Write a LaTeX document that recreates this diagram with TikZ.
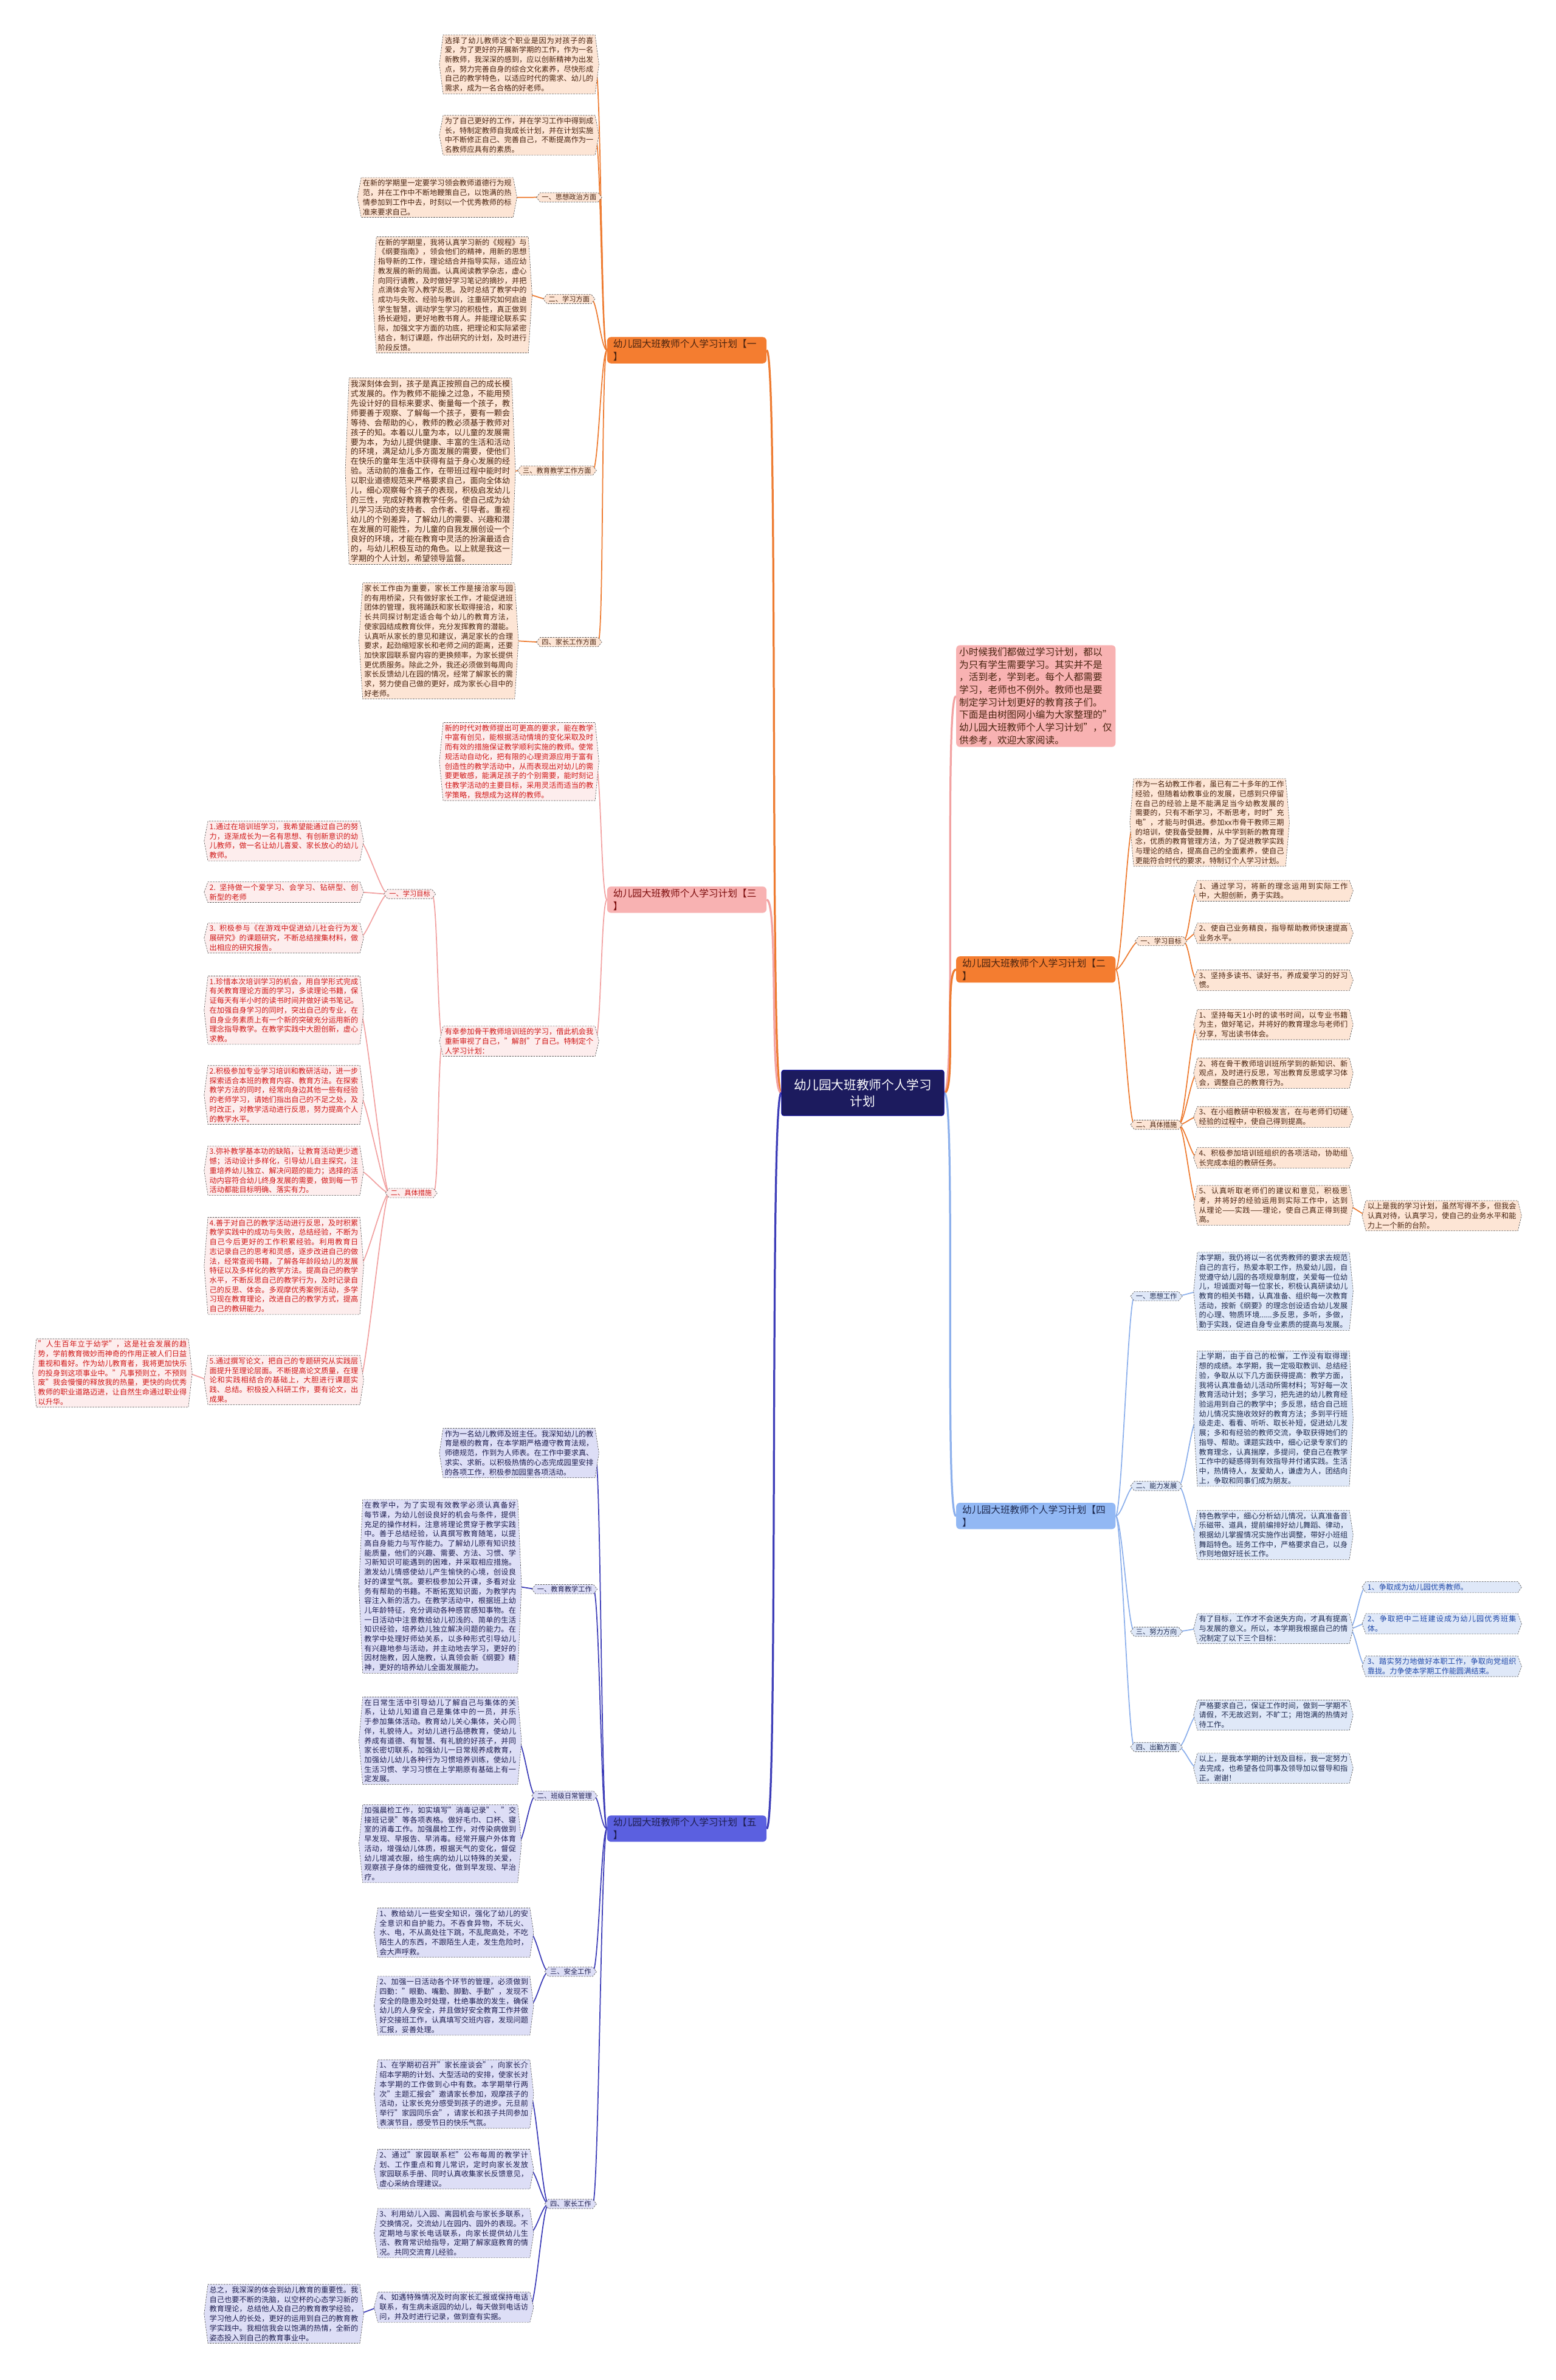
\documentclass[tikz,border=0pt]{standalone}
\usepackage{fontspec}
\setmainfont{Noto Sans CJK SC}
\XeTeXlinebreaklocale "zh"
\XeTeXlinebreakskip=0pt plus 1pt
\newcommand\leafsize{\fontsize{13.9pt}{17.9pt}\selectfont}
\newcommand\tagsize{\fontsize{12.8pt}{15pt}\selectfont}
\newcommand\headsize{\fontsize{17.9pt}{23.5pt}\selectfont}
\newcommand\rootsize{\fontsize{23.5pt}{31pt}\selectfont}
\definecolor{oLine}{HTML}{EE7B30}
\definecolor{oFill}{HTML}{FDE5D5}
\definecolor{oText}{HTML}{4A2410}
\definecolor{oHead}{HTML}{F47D30}
\definecolor{pLine}{HTML}{F2A2A2}
\definecolor{pFill}{HTML}{FDEDED}
\definecolor{pText}{HTML}{D01818}
\definecolor{pHead}{HTML}{F8B2B2}
\definecolor{bLine}{HTML}{3D3DB8}
\definecolor{bFill}{HTML}{DDDEF6}
\definecolor{bText}{HTML}{1E1E50}
\definecolor{bHead}{HTML}{5B60E0}
\definecolor{lLine}{HTML}{8DB0EC}
\definecolor{lFill}{HTML}{DFE8F8}
\definecolor{lText}{HTML}{1E2A50}
\definecolor{lHead}{HTML}{92B8F4}
\definecolor{lBlue}{HTML}{2048A8}
\definecolor{rootFill}{HTML}{1C1B5E}
\definecolor{hexDraw}{HTML}{555555}
\pgfdeclarelayer{paper}
\pgfdeclarelayer{edges}
\pgfdeclarelayer{boxes}
\pgfsetlayers{paper,edges,boxes,main}
\begin{document}
\begin{tikzpicture}[x=1mm,y=-1mm,
  leaf/.style={anchor=north west, text width=98mm, align=justify, inner xsep=1mm, inner ysep=1.3mm, font=\leafsize},
  tag/.style={inner xsep=1mm, inner ysep=0.9mm, font=\tagsize},
  head/.style={anchor=north west, text width=97mm, align=left, inner xsep=4mm, inner ysep=1.6mm, rounded corners=2.5mm, font=\headsize},
  oleaf/.style={leaf, text=oText}, otag/.style={tag, text=oText},
  pleaf/.style={leaf, text=pText}, ptag/.style={tag, text=pText},
  bleaf/.style={leaf, text=bText}, btag/.style={tag, text=bText},
  lleaf/.style={leaf, text=lText}, ltag/.style={tag, text=lText},
  hexo/.style={fill=oFill, draw=hexDraw, densely dashed, line width=0.25mm},
  hexp/.style={fill=pFill, draw=hexDraw, densely dashed, line width=0.25mm},
  hexb/.style={fill=bFill, draw=hexDraw, densely dashed, line width=0.25mm},
  hexl/.style={fill=lFill, draw=hexDraw, densely dashed, line width=0.25mm},
  trunk/.style={line width=1.3mm},
  twig/.style={line width=0.7mm}]
\begin{pgfonlayer}{paper}
\fill[white] (0,0) rectangle (1025,1568);
\end{pgfonlayer}
\useasboundingbox (0,0) rectangle (1025,1568);

\node[fill=rootFill, draw=blue!60!black, line width=0.4mm, rounded corners=1.5mm, text=white, font=\rootsize, align=center, minimum width=107mm, minimum height=30mm] (root) at (568.5,720) {幼儿园大班教师个人学习\\计划};

\node[head, fill=oHead, text=oText] (plan1) at (400,222) {幼儿园大班教师个人学习计划【一\\】};
\node[oleaf] (p1a) at (292,23) {选择了幼儿教师这个职业是因为对孩子的喜爱，为了更好的开展新学期的工作，作为一名新教师，我深深的感到，应以创新精神为出发点，努力完善自身的综合文化素养，尽快形成自己的教学特色，以适应时代的需求、幼儿的需求，成为一名合格的好老师。};
\node[oleaf] (p1b) at (292,76) {为了自己更好的工作，并在学习工作中得到成长，特制定教师自我成长计划，并在计划实施中不断修正自己、完善自己，不断提高作为一名教师应具有的素质。};
\node[otag] (p1k1) at (375,130) {一、思想政治方面};
\node[oleaf] (p1t1) at (238,117) {在新的学期里一定要学习领会教师道德行为规范，并在工作中不断地鞭策自己，以饱满的热情参加到工作中去，时刻以一个优秀教师的标准来要求自己。};
\node[otag] (p1k2) at (375,197) {二、学习方面};
\node[oleaf] (p1t2) at (248,156) {在新的学期里，我将认真学习新的《规程》与《纲要指南》，领会他们的精神，用新的思想指导新的工作，理论结合并指导实际，适应幼教发展的新的局面。认真阅读教学杂志，虚心向同行请教，及时做好学习笔记的摘抄，并把点滴体会写入教学反思。及时总结了教学中的成功与失败、经验与教训，注重研究如何启迪学生智慧，调动学生学习的积极性，真正做到扬长避短，更好地教书育人。并能理论联系实际，加强文字方面的功底，把理论和实际紧密结合，制订课题，作出研究的计划，及时进行阶段反馈。};
\node[otag] (p1k3) at (367,310) {三、教育教学工作方面};
\node[oleaf, text width=105mm, font=\fontsize{14.9pt}{18.2pt}\selectfont] (p1t3) at (230,249) {我深刻体会到，孩子是真正按照自己的成长模式发展的。作为教师不能操之过急，不能用预先设计好的目标来要求、衡量每一个孩子，教师要善于观察、了解每一个孩子，要有一颗会等待、会帮助的心，教师的教必须基于教师对孩子的知。本着以儿童为本，以儿童的发展需要为本，为幼儿提供健康、丰富的生活和活动的环境，满足幼儿多方面发展的需要，使他们在快乐的童年生活中获得有益于身心发展的经验。活动前的准备工作，在带班过程中能时时以职业道德规范来严格要求自己，面向全体幼儿，细心观察每个孩子的表现，积极启发幼儿的三性，完成好教育教学任务。使自己成为幼儿学习活动的支持者、合作者、引导者。重视幼儿的个别差异，了解幼儿的需要、兴趣和潜在发展的可能性，为儿童的自我发展创设一个良好的环境，才能在教育中灵活的扮演最适合的，与幼儿积极互动的角色。以上就是我这一学期的个人计划，希望领导监督。};
\node[otag] (p1k4) at (375,423) {四、家长工作方面};
\node[oleaf] (p1t4) at (239,384) {家长工作由为重要，家长工作是接洽家与园的有用桥梁，只有做好家长工作，才能促进班团体的管理，我将踊跃和家长取得接洽，和家长共同探讨制定适合每个幼儿的教育方法，使家园结成教育伙伴，充分发挥教育的潜能。认真听从家长的意见和建议，满足家长的合理要求，起劲缩短家长和老师之间的距离，还要加快家园联系窗内容的更换频率，为家长提供更优质服务。除此之外，我还必须做到每周向家长反馈幼儿在园的情况，经常了解家长的需求，努力使自己做的更好，成为家长心目中的好老师。};

\node[head, fill=pHead, text=pText!60!black] (plan3) at (400,584) {幼儿园大班教师个人学习计划【三\\】};
\node[pleaf] (p3a) at (292,476) {新的时代对教师提出可更高的要求，能在教学中富有创见，能根据活动情境的变化采取及时而有效的措施保证教学顺利实施的教师。使常规活动自动化，把有限的心理资源应用于富有创造性的教学活动中，从而表现出对幼儿的需要更敏感，能满足孩子的个别需要，能时刻记住教学活动的主要目标，采用灵活而适当的教学策略，我想成为这样的教师。};
\node[pleaf] (p3b) at (292,676) {有幸参加骨干教师培训班的学习，借此机会我重新审视了自己，"解剖"了自己。特制定个人学习计划：};
\node[ptag] (p3k1) at (270,589) {一、学习目标};
\node[pleaf] (p3g1) at (137,541) {1.通过在培训班学习，我希望能通过自己的努力，逐渐成长为一名有思想、有创新意识的幼儿教师，做一名让幼儿喜爱、家长放心的幼儿教师。};
\node[pleaf] (p3g2) at (137,581) {2. 坚持做一个爱学习、会学习、钻研型、创新型的老师};
\node[pleaf] (p3g3) at (137,608) {3. 积极参与《在游戏中促进幼儿社会行为发展研究》的课题研究，不断总结搜集材料，做出相应的研究报告。};
\node[ptag] (p3k2) at (271,786) {二、具体措施};
\node[pleaf] (p3m1) at (137,643) {1.珍惜本次培训学习的机会，用自学形式完成有关教育理论方面的学习，多读理论书籍，保证每天有半小时的读书时间并做好读书笔记。在加强自身学习的同时，突出自己的专业，在自身业务素质上有一个新的突破充分运用新的理念指导教学。在教学实践中大胆创新，虚心求教。};
\node[pleaf] (p3m2) at (137,702) {2.积极参加专业学习培训和教研活动，进一步探索适合本班的教育内容、教育方法。在探索教学方法的同时，经常向身边其他一些有经验的老师学习，请她们指出自己的不足之处，及时改正，对教学活动进行反思，努力提高个人的教学水平。};
\node[pleaf] (p3m3) at (137,755) {3.弥补教学基本功的缺陷，让教育活动更少遗憾；活动设计多样化，引导幼儿自主探究，注重培养幼儿独立、解决问题的能力；选择的活动内容符合幼儿终身发展的需要，做到每一节活动都能目标明确、落实有力。};
\node[pleaf] (p3m4) at (137,802) {4.善于对自己的教学活动进行反思，及时积累教学实践中的成功与失败，总结经验，不断为自己今后更好的工作积累经验。利用教育日志记录自己的思考和灵感，逐步改进自己的做法，经常查阅书籍，了解各年龄段幼儿的发展特征以及多样化的教学方法。提高自己的教学水平，不断反思自己的教学行为，及时记录自己的反思、体会。多观摩优秀案例活动，多学习现在教育理论，改进自己的教学方式，提高自己的教研能力。};
\node[pleaf] (p3m5) at (137,893) {5.通过撰写论文，把自己的专题研究从实践层面提升至理论层面。不断提高论文质量，在理论和实践相结合的基础上，大胆进行课题实践、总结。积极投入科研工作，要有论文，出成果。};
\node[pleaf] (p3c) at (24,882) {"人生百年立于幼学"，这是社会发展的趋势，学前教育微妙而神奇的作用正被人们日益重视和看好。作为幼儿教育者，我将更加快乐的投身到这项事业中。"凡事预则立，不预则废"我会慢慢的释放我的热量，更快的向优秀教师的职业道路迈进，让自然生命通过职业得以升华。};

\node[head, fill=bHead, text=bText] (plan5) at (400,1196) {幼儿园大班教师个人学习计划【五\\】};
\node[bleaf] (p5a) at (292,941) {作为一名幼儿教师及班主任。我深知幼儿的教育是根的教育，在本学期严格遵守教育法规，师德规范，作到为人师表。在工作中要求真、求实、求新。以积极热情的心态完成园里安排的各项工作，积极参加园里各项活动。};
\node[btag] (p5k1) at (372,1047) {一、教育教学工作};
\node[bleaf, text width=100mm] (p5t1) at (239,988) {在教学中，为了实现有效教学必须认真备好每节课，为幼儿创设良好的机会与条件，提供充足的操作材料，注意将理论贯穿于教学实践中。善于总结经验，认真撰写教育随笔，以提高自身能力与写作能力。了解幼儿原有知识技能质量，他们的兴趣、需要、方法、习惯、学习新知识可能遇到的困难，并采取相应措施。激发幼儿情感使幼儿产生愉快的心境，创设良好的课堂气氛。要积极参加公开课，多看对业务有帮助的书籍。不断拓宽知识面，为教学内容注入新的活力。在教学活动中，根据班上幼儿年龄特征，充分调动各种感官感知事物。在一日活动中注意教给幼儿初浅的、简单的生活知识经验，培养幼儿独立解决问题的能力。在教学中处理好师幼关系，以多种形式引导幼儿有兴趣地参与活动，并主动地去学习，更好的因材施教，因人施教，认真领会新《纲要》精神，更好的培养幼儿全面发展能力。};
\node[btag] (p5k2) at (372,1183) {二、班级日常管理};
\node[bleaf, text width=100mm] (p5t2) at (239,1118) {在日常生活中引导幼儿了解自己与集体的关系，让幼儿知道自己是集体中的一员，并乐于参加集体活动。教育幼儿关心集体，关心同伴，礼貌待人。对幼儿进行品德教育，使幼儿养成有道德、有智慧、有礼貌的好孩子，并同家长密切联系，加强幼儿一日常规养成教育，加强幼儿幼儿各种行为习惯培养训练，使幼儿生活习惯、学习习惯在上学期原有基础上有一定发展。};
\node[bleaf, text width=100mm] (p5t3) at (239,1189) {加强晨检工作，如实填写"消毒记录"、"交接班记录"等各项表格。做好毛巾、口杯、寝室的消毒工作。加强晨检工作，对传染病做到早发现、早报告、早消毒。经常开展户外体育活动，增强幼儿体质，根据天气的变化，督促幼儿增减衣服，给生病的幼儿以特殊的关爱，观察孩子身体的细微变化，做到早发现、早治疗。};
\node[btag] (p5k3) at (376,1299) {三、安全工作};
\node[bleaf] (p5s1) at (249,1257) {1、教给幼儿一些安全知识，强化了幼儿的安全意识和自护能力。不吞食异物，不玩火、水、电，不从高处往下跳，不乱爬高处，不吃陌生人的东西，不跟陌生人走，发生危险时，会大声呼救。};
\node[bleaf] (p5s2) at (249,1302) {2、加强一日活动各个环节的管理，必须做到四勤："眼勤、嘴勤、脚勤、手勤"，发现不安全的隐患及时处理，杜绝事故的发生，确保幼儿的人身安全，并且做好安全教育工作并做好交接班工作，认真填写交班内容，发现问题汇报，妥善处理。};
\node[btag] (p5k4) at (376,1452) {四、家长工作};
\node[bleaf] (p5f1) at (249,1357) {1、在学期初召开"家长座谈会"，向家长介绍本学期的计划、大型活动的安排，使家长对本学期的工作做到心中有数。本学期举行两次"主题汇报会"邀请家长参加，观摩孩子的活动，让家长充分感受到孩子的进步。元旦前举行"家园同乐会"，请家长和孩子共同参加表演节目，感受节日的快乐气氛。};
\node[bleaf] (p5f2) at (249,1416) {2、通过"家园联系栏"公布每周的教学计划、工作重点和育儿常识，定时向家长发放家园联系手册、同时认真收集家长反馈意见，虚心采纳合理建议。};
\node[bleaf] (p5f3) at (249,1455) {3、利用幼儿入园、离园机会与家长多联系，交换情况，交流幼儿在园内、园外的表现。不定期地与家长电话联系，向家长提供幼儿生活、教育常识给指导，定期了解家庭教育的情况。共同交流育儿经验。};
\node[bleaf] (p5f4) at (249,1510) {4、如遇特殊情况及时向家长汇报或保持电话联系，有生病未返园的幼儿，每天做到电话访问，并及时进行记录，做到查有实据。};
\node[bleaf] (p5z) at (137,1505) {总之，我深深的体会到幼儿教育的重要性。我自己也要不断的洗脑，以空杯的心态学习新的教育理论，总结他人及自己的教育教学经验，学习他人的长处，更好的运用到自己的教育教学实践中。我相信我会以饱满的热情，全新的姿态投入到自己的教育事业中。};

\node[head, fill=pHead, text=oText, text width=101mm, inner xsep=2mm] (intro) at (630,425) {小时候我们都做过学习计划，都以\\为只有学生需要学习。其实并不是\\，活到老，学到老。每个人都需要\\学习，老师也不例外。教师也是要\\制定学习计划更好的教育孩子们。\\下面是由树图网小编为大家整理的"\\幼儿园大班教师个人学习计划"，仅\\供参考，欢迎大家阅读。};

\node[head, fill=oHead, text=oText] (plan2) at (630,630) {幼儿园大班教师个人学习计划【二\\】};
\node[oleaf] (p2a) at (747,513) {作为一名幼教工作者，虽已有二十多年的工作经验，但随着幼教事业的发展，已感到只停留在自己的经验上是不能满足当今幼教发展的需要的，只有不断学习，不断思考，时时"充电"，才能与时俱进。参加xx市骨干教师三期的培训，使我备受鼓舞，从中学到新的教育理念，优质的教育管理方法，为了促进教学实践与理论的结合，提高自己的全面素养，使自己更能符合时代的要求，特制订个人学习计划。};
\node[otag] (p2k1) at (765,620) {一、学习目标};
\node[oleaf] (p2g1) at (789,580) {1、通过学习，将新的理念运用到实际工作中，大胆创新，勇于实践。};
\node[oleaf] (p2g2) at (789,608) {2、使自己业务精良，指导帮助教师快速提高业务水平。};
\node[oleaf] (p2g3) at (789,639) {3、坚持多读书、读好书，养成爱学习的好习惯。};
\node[otag] (p2k2) at (762,741) {二、具体措施};
\node[oleaf] (p2m1) at (789,665) {1、坚持每天1小时的读书时间，以专业书籍为主，做好笔记，并将好的教育理念与老师们分享，写出读书体会。};
\node[oleaf] (p2m2) at (789,697) {2、将在骨干教师培训班所学到的新知识、新观点，及时进行反思，写出教育反思或学习体会，调整自己的教育行为。};
\node[oleaf] (p2m3) at (789,729) {3、在小组教研中积极发言，在与老师们切磋经验的过程中，使自己得到提高。};
\node[oleaf] (p2m4) at (789,756) {4、积极参加培训班组织的各项活动，协助组长完成本组的教研任务。};
\node[oleaf] (p2m5) at (789,781) {5、认真听取老师们的建议和意见，积极思考，并将好的经验运用到实际工作中，达到从理论——实践——理论，使自己真正得到提高。};
\node[oleaf] (p2c) at (900,791) {以上是我的学习计划，虽然写得不多，但我会认真对待，认真学习，使自己的业务水平和能力上一个新的台阶。};

\node[head, fill=lHead, text=lText] (plan4) at (630,990) {幼儿园大班教师个人学习计划【四\\】};
\node[ltag] (p4k1) at (762,854) {一、思想工作};
\node[lleaf] (p4t1) at (789,825) {本学期，我仍将以一名优秀教师的要求去规范自己的言行，热爱本职工作，热爱幼儿园，自觉遵守幼儿园的各项规章制度，关爱每一位幼儿，坦诚面对每一位家长，积极认真研读幼儿教育的相关书籍，认真准备、组织每一次教育活动，按新《纲要》的理念创设适合幼儿发展的心理、物质环境......多反思，多听，多做，勤于实践，促进自身专业素质的提高与发展。};
\node[ltag] (p4k2) at (762,979) {二、能力发展};
\node[lleaf] (p4t2) at (789,890) {上学期，由于自己的松懈，工作没有取得理想的成绩。本学期，我一定吸取教训、总结经验，争取从以下几方面获得提高：教学方面，我将认真准备幼儿活动所需材料；写好每一次教育活动计划；多学习，把先进的幼儿教育经验运用到自己的教学中；多反思，结合自己班幼儿情况实施收效好的教育方法；多到平行班级走走、看看、听听、取长补短，促进幼儿发展；多和有经验的教师交流，争取获得她们的指导、帮助。课题实践中，细心记录专家们的教育理念，认真揣摩，多提问，使自己在教学工作中的疑惑得到有效指导并付诸实践。生活中，热情待人，友爱助人，谦虚为人，团结向上，争取和同事们成为朋友。};
\node[lleaf] (p4t3) at (789,995) {特色教学中，细心分析幼儿情况，认真准备音乐磁带、道具，提前编排好幼儿舞蹈、律动，根据幼儿掌握情况实施作出调整，带好小班组舞蹈特色。班务工作中，严格要求自己，以身作则地做好班长工作。};
\node[ltag] (p4k3) at (762,1075) {三、努力方向};
\node[lleaf] (p4t4) at (789,1063) {有了目标，工作才不会迷失方向，才具有提高与发展的意义。所以，本学期我根据自己的情况制定了以下三个目标：};
\node[lleaf, text=lBlue] (p4c1) at (900,1042) {1、争取成为幼儿园优秀教师。};
\node[lleaf, text=lBlue] (p4c2) at (900,1063) {2、争取把中二班建设成为幼儿园优秀班集体。};
\node[lleaf, text=lBlue] (p4c3) at (900,1091) {3、踏实努力地做好本职工作，争取向党组织靠拢。力争使本学期工作能圆满结束。};
\node[ltag] (p4k4) at (762,1151) {四、出勤方面};
\node[lleaf] (p4t5) at (789,1120) {严格要求自己，保证工作时间，做到一学期不请假，不无故迟到，不旷工；用饱满的热情对待工作。};
\node[lleaf] (p4t6) at (789,1155) {以上，是我本学期的计划及目标，我一定努力去完成，也希望各位同事及领导加以督导和指正。谢谢！};

\begin{pgfonlayer}{boxes}
\foreach \n/\s in {p1a/hexo,p1b/hexo,p1k1/hexo,p1t1/hexo,p1k2/hexo,p1t2/hexo,p1k3/hexo,p1t3/hexo,p1k4/hexo,p1t4/hexo,
  p3a/hexp,p3b/hexp,p3k1/hexp,p3g1/hexp,p3g2/hexp,p3g3/hexp,p3k2/hexp,p3m1/hexp,p3m2/hexp,p3m3/hexp,p3m4/hexp,p3m5/hexp,p3c/hexp,
  p5a/hexb,p5k1/hexb,p5t1/hexb,p5k2/hexb,p5t2/hexb,p5t3/hexb,p5k3/hexb,p5s1/hexb,p5s2/hexb,p5k4/hexb,p5f1/hexb,p5f2/hexb,p5f3/hexb,p5f4/hexb,p5z/hexb,
  p2a/hexo,p2k1/hexo,p2g1/hexo,p2g2/hexo,p2g3/hexo,p2k2/hexo,p2m1/hexo,p2m2/hexo,p2m3/hexo,p2m4/hexo,p2m5/hexo,p2c/hexo,
  p4k1/hexl,p4t1/hexl,p4k2/hexl,p4t2/hexl,p4t3/hexl,p4k3/hexl,p4t4/hexl,p4c1/hexl,p4c2/hexl,p4c3/hexl,p4k4/hexl,p4t5/hexl,p4t6/hexl}
  \draw[\s] ([xshift=-2.5mm]\n.west) -- (\n.north west) -- (\n.north east) -- ([xshift=2.5mm]\n.east) -- (\n.south east) -- (\n.south west) -- cycle;
\end{pgfonlayer}

\begin{pgfonlayer}{edges}
\draw[trunk, oLine] (root.west) .. controls +(-8,0) and +(8,0) .. (plan1.east);
\draw[trunk, pLine] (root.west) .. controls +(-8,0) and +(8,0) .. (plan3.east);
\draw[trunk, bLine] (root.west) .. controls +(-8,0) and +(8,0) .. (plan5.east);
\draw[trunk, pLine] (root.east) .. controls +(8,0) and +(-8,0) .. (intro.west);
\draw[trunk, oLine] (root.east) .. controls +(8,0) and +(-8,0) .. (plan2.west);
\draw[trunk, lLine] (root.east) .. controls +(8,0) and +(-8,0) .. (plan4.west);

\foreach \c in {p1a,p1b,p1k1,p1k2,p1k3,p1k4}
  \draw[twig, oLine] (plan1.west) .. controls +(-4,0) and +(4,0) .. (\c.east);
\foreach \k/\t in {p1k1/p1t1,p1k2/p1t2,p1k3/p1t3,p1k4/p1t4}
  \draw[twig, oLine] (\k.west) .. controls +(-4,0) and +(4,0) .. (\t.east);

\foreach \c in {p3a,p3b}
  \draw[twig, pLine] (plan3.west) .. controls +(-4,0) and +(4,0) .. (\c.east);
\foreach \c in {p3k1,p3k2}
  \draw[twig, pLine] (p3b.west) .. controls +(-4,0) and +(4,0) .. (\c.east);
\foreach \c in {p3g1,p3g2,p3g3}
  \draw[twig, pLine] (p3k1.west) .. controls +(-4,0) and +(4,0) .. (\c.east);
\foreach \c in {p3m1,p3m2,p3m3,p3m4,p3m5}
  \draw[twig, pLine] (p3k2.west) .. controls +(-4,0) and +(4,0) .. (\c.east);
\draw[twig, pLine] (p3m5.west) -- (p3c.east);

\foreach \c in {p5a,p5k1,p5k2,p5k3,p5k4}
  \draw[twig, bLine] (plan5.west) .. controls +(-4,0) and +(4,0) .. (\c.east);
\draw[twig, bLine] (p5k1.west) -- (p5t1.east);
\foreach \c in {p5t2,p5t3}
  \draw[twig, bLine] (p5k2.west) .. controls +(-4,0) and +(4,0) .. (\c.east);
\foreach \c in {p5s1,p5s2}
  \draw[twig, bLine] (p5k3.west) .. controls +(-4,0) and +(4,0) .. (\c.east);
\foreach \c in {p5f1,p5f2,p5f3,p5f4}
  \draw[twig, bLine] (p5k4.west) .. controls +(-4,0) and +(4,0) .. (\c.east);
\draw[twig, bLine] (p5f4.west) -- (p5z.east);

\foreach \c in {p2a,p2k1,p2k2}
  \draw[twig, oLine] (plan2.east) .. controls +(4,0) and +(-4,0) .. (\c.west);
\foreach \c in {p2g1,p2g2,p2g3}
  \draw[twig, oLine] (p2k1.east) .. controls +(4,0) and +(-4,0) .. (\c.west);
\foreach \c in {p2m1,p2m2,p2m3,p2m4,p2m5}
  \draw[twig, oLine] (p2k2.east) .. controls +(4,0) and +(-4,0) .. (\c.west);
\draw[twig, oLine] (p2m5.east) -- (p2c.west);

\foreach \c in {p4k1,p4k2,p4k3,p4k4}
  \draw[twig, lLine] (plan4.east) .. controls +(4,0) and +(-4,0) .. (\c.west);
\draw[twig, lLine] (p4k1.east) -- (p4t1.west);
\foreach \c in {p4t2,p4t3}
  \draw[twig, lLine] (p4k2.east) .. controls +(4,0) and +(-4,0) .. (\c.west);
\draw[twig, lLine] (p4k3.east) -- (p4t4.west);
\foreach \c in {p4c1,p4c2,p4c3}
  \draw[twig, lLine] (p4t4.east) .. controls +(4,0) and +(-4,0) .. (\c.west);
\foreach \c in {p4t5,p4t6}
  \draw[twig, lLine] (p4k4.east) .. controls +(4,0) and +(-4,0) .. (\c.west);
\end{pgfonlayer}
\end{tikzpicture}
\end{document}
